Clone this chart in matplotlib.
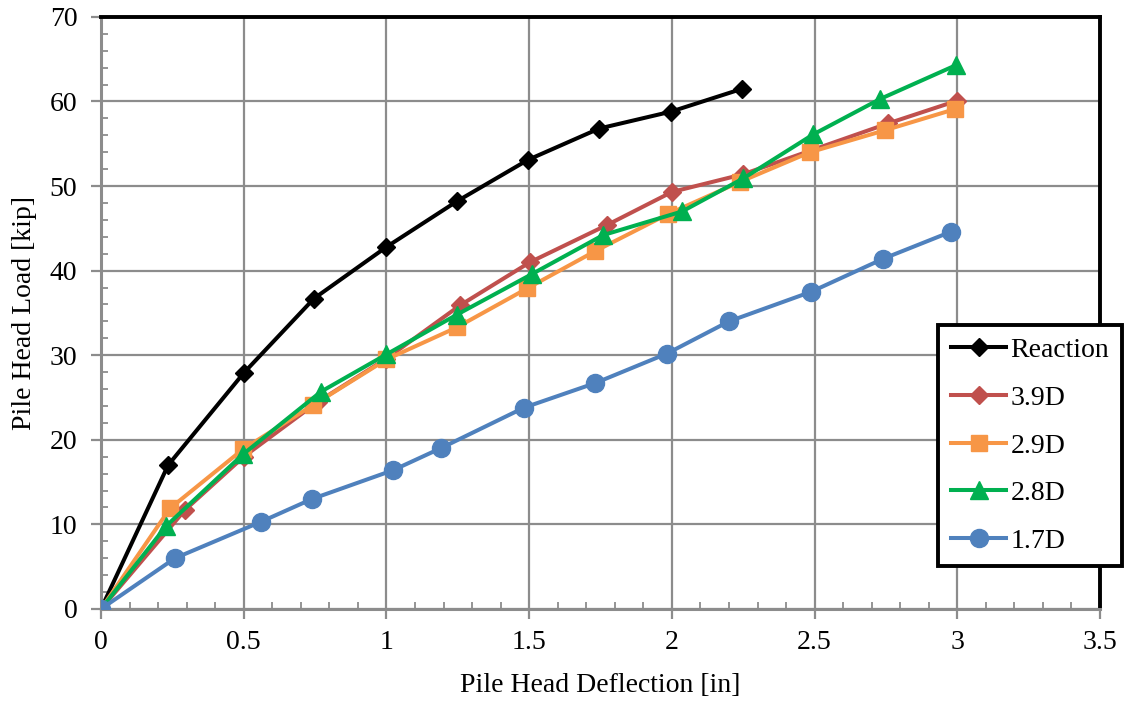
# Pile head load vs deflection

import matplotlib.pyplot as plt
from matplotlib.ticker import MultipleLocator

plt.rcParams['font.family'] = ['Liberation Serif', 'DejaVu Serif']

x_reaction = [0, 0.235, 0.5, 0.746, 1.0, 1.247, 1.496, 1.745, 1.997, 2.246]
y_reaction = [0, 17.0, 27.9, 36.7, 42.8, 48.2, 53.1, 56.8, 58.8, 61.5]

x_39d = [0, 0.294, 0.5, 0.76, 1.0, 1.258, 1.503, 1.773, 2.0, 2.25, 2.757, 3.0]
y_39d = [0, 11.7, 18.0, 24.5, 29.6, 35.9, 41.0, 45.4, 49.3, 51.4, 57.4, 60.1]

x_29d = [0, 0.242, 0.498, 0.743, 1.0, 1.247, 1.493, 1.731, 1.987, 2.239, 2.484, 2.747, 2.992]
y_29d = [0, 11.9, 18.9, 24.1, 29.5, 33.3, 37.9, 42.3, 46.7, 50.5, 54.0, 56.6, 59.1]

x_28d = [0, 0.228, 0.498, 0.771, 1.0, 1.247, 1.51, 1.759, 2.036, 2.25, 2.495, 2.73, 2.996]
y_28d = [0, 9.8, 18.3, 25.7, 30.1, 34.8, 39.6, 44.2, 47.0, 50.9, 56.1, 60.3, 64.3]

x_17d = [0, 0.259, 0.56, 0.739, 1.023, 1.19, 1.482, 1.731, 1.983, 2.2, 2.488, 2.74, 2.978]
y_17d = [0, 6.0, 10.3, 13.0, 16.4, 19.0, 23.8, 26.7, 30.2, 34.0, 37.5, 41.4, 44.6]

fig = plt.figure(figsize=(11.25, 7.04), dpi=100)
ax = fig.add_axes([0.0898, 0.135, 0.888, 0.841])

lw = 2.9
ax.plot(x_reaction, y_reaction, color='black', marker='D', markersize=9.5, linewidth=lw, label='Reaction', zorder=3)
ax.plot(x_39d, y_39d, color='#C0504D', marker='D', markersize=9.5, linewidth=lw, label='3.9D', zorder=3)
ax.plot(x_29d, y_29d, color='#F79646', marker='s', markersize=11, linewidth=lw, label='2.9D', zorder=3)
ax.plot(x_28d, y_28d, color='#00B050', marker='^', markersize=13, linewidth=lw, label='2.8D', zorder=3)
ax.plot(x_17d, y_17d, color='#4F81BD', marker='o', markersize=13, linewidth=lw, label='1.7D', zorder=3)

ax.set_xlim(0, 3.5)
ax.set_ylim(0, 70)
ax.xaxis.set_minor_locator(MultipleLocator(0.1))
ax.yaxis.set_major_locator(MultipleLocator(10))
ax.yaxis.set_minor_locator(MultipleLocator(2))
ax.set_xticks([0, 0.5, 1, 1.5, 2, 2.5, 3, 3.5])
ax.set_xticklabels(['0', '0.5', '1', '1.5', '2', '2.5', '3', '3.5'])

ax.grid(True, which='major', color='#8c8c8c', linewidth=1.6, zorder=0)
ax.set_axisbelow(True)

ax.tick_params(which='major', direction='out', length=7, width=1.6, color='#8c8c8c', labelsize=20)
ax.tick_params(axis='x', which='major', pad=8)
ax.tick_params(axis='y', which='major', pad=10)
ax.tick_params(which='minor', direction='in', length=5, width=1.3, color='#8c8c8c')

for side in ['left', 'bottom']:
    ax.spines[side].set_color('#8c8c8c')
    ax.spines[side].set_linewidth(2.2)
for side in ['top', 'right']:
    ax.spines[side].set_color('black')
    ax.spines[side].set_linewidth(2.8)

ax.set_xlabel('Pile Head Deflection [in]', fontsize=20, labelpad=13)
ax.set_ylabel('Pile Head Load [kip]', fontsize=20, labelpad=9)

leg = ax.legend(loc='upper left', bbox_to_anchor=(0.834, 0.538), bbox_transform=fig.transFigure,
                fontsize=20, frameon=True, fancybox=False, framealpha=1, edgecolor='black',
                handlelength=2.0, labelspacing=0.8, borderpad=0.45, handletextpad=0.15, borderaxespad=0)
leg.get_frame().set_linewidth(2.8)
leg.set_zorder(5)

fig.savefig('out.png', dpi=100)
